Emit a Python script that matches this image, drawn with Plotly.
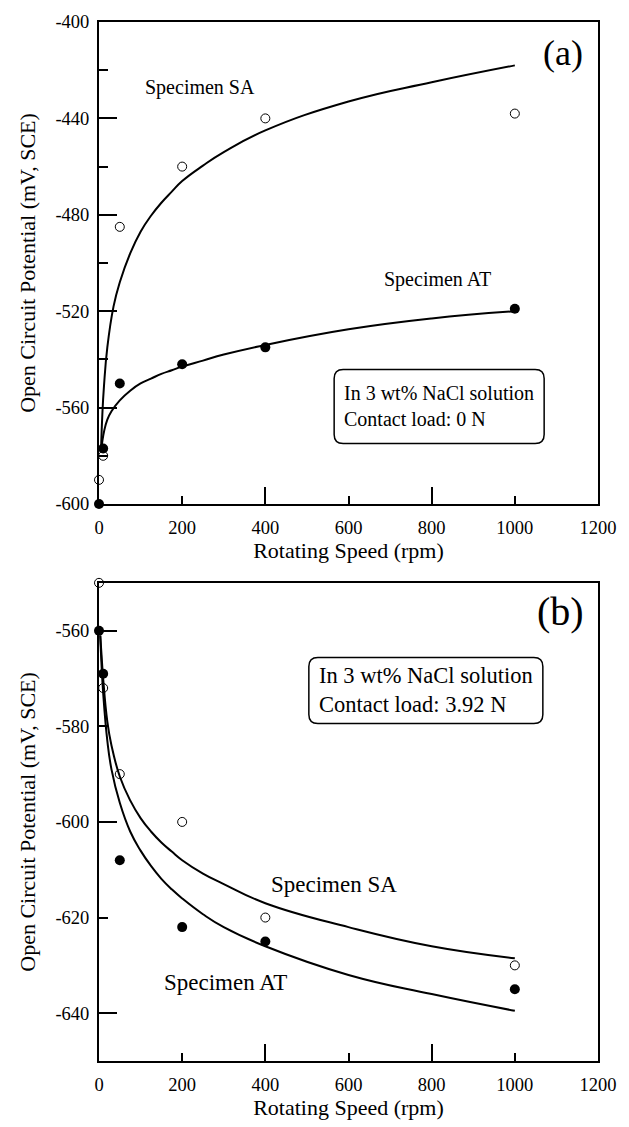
import plotly.graph_objects as go

# ---------------- data ----------------
rpm = [0, 10, 50, 200, 400, 1000]

# Panel (a): contact load 0 N
a_sa = [-590, -580, -485, -460, -440, -438]
a_at = [-600, -577, -550, -542, -535, -519]
a_sa_fit_x = [5, 8, 12, 20, 35, 50, 75, 100, 125, 150, 175, 200, 250, 300, 400, 600, 800, 1000]
a_sa_fit_y = [-577, -563, -551, -535, -518, -508, -496, -487, -480.4, -475, -470.4, -466, -459.6, -454, -445, -433, -425, -418]
a_at_fit_x = [5, 8, 12, 20, 30, 50, 75, 100, 125, 150, 175, 200, 250, 300, 400, 600, 800, 1000]
a_at_fit_y = [-578, -574, -570, -565, -561.5, -557, -553, -550, -548, -546, -544.5, -543, -540.5, -538, -534, -527.5, -523, -520]

# Panel (b): contact load 3.92 N
b_sa = [-550, -572, -590, -600, -620, -630]
b_at = [-560, -569, -608, -622, -625, -635]
b_sa_fit_x = [3, 6, 10, 20, 30, 50, 75, 100, 125, 150, 175, 200, 250, 300, 400, 600, 800, 1000]
b_sa_fit_y = [-561, -565, -570, -579, -584, -590.5, -595.5, -599.2, -602, -604.3, -606.2, -608, -610.8, -613, -617, -622, -626, -628.5]
b_at_fit_x = [3, 6, 10, 20, 30, 50, 75, 100, 125, 150, 175, 200, 250, 300, 400, 600, 800, 1000]
b_at_fit_y = [-561, -567, -573, -583, -589, -596, -602, -606, -609.2, -611.9, -614.1, -616, -619.3, -622, -626, -632, -636, -639.5]

x_ticks = [0, 200, 400, 600, 800, 1000, 1200]
x_long_ticks = [400, 800]
a_y_ticks = [-600, -560, -520, -480, -440, -400]
a_y_minor = [-580, -540, -500, -460, -420]
b_y_ticks = [-640, -620, -600, -580, -560]
b_y_long_ticks = [-640, -600, -560]

# ---------------- figure ----------------
FONT = "Liberation Serif, Times New Roman, serif"
fig = go.Figure()

def open_pts(x, y, xa, ya):
    return go.Scatter(x=x, y=y, xaxis=xa, yaxis=ya, mode="markers", cliponaxis=False,
                      marker=dict(symbol="circle-open", size=9, color="black",
                                  line=dict(width=1, color="black")),
                      showlegend=False, hoverinfo="skip")

def filled_pts(x, y, xa, ya):
    return go.Scatter(x=x, y=y, xaxis=xa, yaxis=ya, mode="markers", cliponaxis=False,
                      marker=dict(symbol="circle", size=10, color="black"),
                      showlegend=False, hoverinfo="skip")

def curve(x, y, xa, ya):
    return go.Scatter(x=x, y=y, xaxis=xa, yaxis=ya, mode="lines",
                      line=dict(color="black", width=2, shape="spline", smoothing=1.3),
                      showlegend=False, hoverinfo="skip")

fig.add_trace(curve(a_sa_fit_x, a_sa_fit_y, "x", "y"))
fig.add_trace(curve(a_at_fit_x, a_at_fit_y, "x", "y"))
fig.add_trace(open_pts(rpm, a_sa, "x", "y"))
fig.add_trace(filled_pts(rpm, a_at, "x", "y"))

fig.add_trace(curve(b_sa_fit_x, b_sa_fit_y, "x2", "y2"))
fig.add_trace(curve(b_at_fit_x, b_at_fit_y, "x2", "y2"))
fig.add_trace(open_pts(rpm, b_sa, "x2", "y2"))
fig.add_trace(filled_pts(rpm, b_at, "x2", "y2"))

# empty traces so the overlay tick axes are drawn
for xa, ya in [("x3", "y"), ("x4", "y2"), ("x2", "y3")]:
    fig.add_trace(go.Scatter(x=[None], y=[None], xaxis=xa, yaxis=ya, mode="markers",
                             showlegend=False, hoverinfo="skip"))

tickfont = dict(family=FONT, size=18.5, color="black")
titlefont = dict(family=FONT, size=22, color="black")

def xax(anchor, title_text):
    return dict(anchor=anchor, range=[0, 1200], tickmode="array", tickvals=x_ticks,
                ticktext=[str(v) for v in x_ticks],
                ticks="inside", ticklen=8, tickwidth=1.5, tickcolor="black",
                showline=True, linewidth=2, linecolor="black", mirror=True,
                showgrid=False, zeroline=False, tickfont=tickfont, ticklabelstandoff=6,
                title=dict(text=title_text, font=titlefont, standoff=4))

def x_long(overlay, anchor):
    return dict(overlaying=overlay, anchor=anchor, range=[0, 1200], tickmode="array",
                tickvals=x_long_ticks, ticks="inside", ticklen=17, tickwidth=1.5,
                tickcolor="black", showticklabels=False, showline=False,
                showgrid=False, zeroline=False)

top_dom = [0.5361, 1.0]
bot_dom = [0.0, 0.4602]

fig.update_layout(
    width=629, height=1127,
    margin=dict(l=99, r=21, t=18, b=55),
    paper_bgcolor="white", plot_bgcolor="white",
    font=dict(family=FONT, color="black"),
    xaxis=xax("y", "Rotating Speed (rpm)"),
    xaxis2=xax("y2", "Rotating Speed (rpm)"),
    xaxis3=x_long("x", "y"),
    xaxis4=x_long("x2", "y2"),
    yaxis=dict(domain=top_dom, anchor="x", range=[-600, -400], tickmode="array",
               tickvals=a_y_ticks, ticktext=[str(v) for v in a_y_ticks],
               ticks="inside", ticklen=18, tickwidth=1.5, tickcolor="black",
               minor=dict(tickmode="array", tickvals=a_y_minor, ticks="inside", ticklen=9,
                          tickwidth=1.5, tickcolor="black", showgrid=False),
               showline=True, linewidth=2, linecolor="black", mirror=True,
               showgrid=False, zeroline=False, tickfont=tickfont, ticklabelstandoff=4,
               title=dict(text="Open Circuit Potential (mV, SCE)", font=titlefont,
                          standoff=14)),
    yaxis2=dict(domain=bot_dom, anchor="x2", range=[-650, -550], tickmode="array",
                tickvals=b_y_ticks, ticktext=[str(v) for v in b_y_ticks],
                ticks="inside", ticklen=9, tickwidth=1.5, tickcolor="black",
                showline=True, linewidth=2, linecolor="black", mirror=True,
                showgrid=False, zeroline=False, tickfont=tickfont, ticklabelstandoff=4,
                title=dict(text="Open Circuit Potential (mV, SCE)", font=titlefont,
                           standoff=14)),
    yaxis3=dict(overlaying="y2", anchor="x2", range=[-650, -550], tickmode="array",
                tickvals=b_y_long_ticks, ticks="inside", ticklen=18, tickwidth=1.5,
                tickcolor="black", showticklabels=False, showline=False,
                showgrid=False, zeroline=False),
)

def label(text, x, y, xref, yref, size, **kw):
    fig.add_annotation(text=text, x=x, y=y, xref=xref, yref=yref, showarrow=False,
                       font=dict(family=FONT, size=size, color="black"), **kw)

def rounded_box(x, y, xref, yref, w, h, r=9):
    a, b = w / 2, h / 2
    path = (f"M {-a + r},{-b} L {a - r},{-b} Q {a},{-b} {a},{-b + r} "
            f"L {a},{b - r} Q {a},{b} {a - r},{b} L {-a + r},{b} Q {-a},{b} {-a},{b - r} "
            f"L {-a},{-b + r} Q {-a},{-b} {-a + r},{-b} Z")
    fig.add_shape(type="path", path=path, xref=xref, yref=yref,
                  xsizemode="pixel", ysizemode="pixel", xanchor=x, yanchor=y,
                  line=dict(color="black", width=1.5), fillcolor="rgba(0,0,0,0)")

# panel (a)
label("(a)", 1117, -413, "x", "y", 36)
label("Specimen SA", 244, -427, "x", "y", 20)
label("Specimen AT", 813, -507, "x", "y", 20)
label("In 3 wt% NaCl solution<br>Contact load: 0 N", 818, -559.5, "x", "y", 20,
      align="left")
rounded_box(818, -559.5, "x", "y", 210, 74)

# panel (b)
label("(b)", 1111, -556, "x2", "y2", 40)
label("Specimen SA", 566, -613, "x2", "y2", 23)
label("Specimen AT", 303, -633.5, "x2", "y2", 23)
label("In 3 wt% NaCl solution<br>Contact load: 3.92 N", 786, -572.5, "x2", "y2", 22.5,
      align="left")
rounded_box(786, -572.5, "x2", "y2", 234, 66)

fig.write_html("out.html")
